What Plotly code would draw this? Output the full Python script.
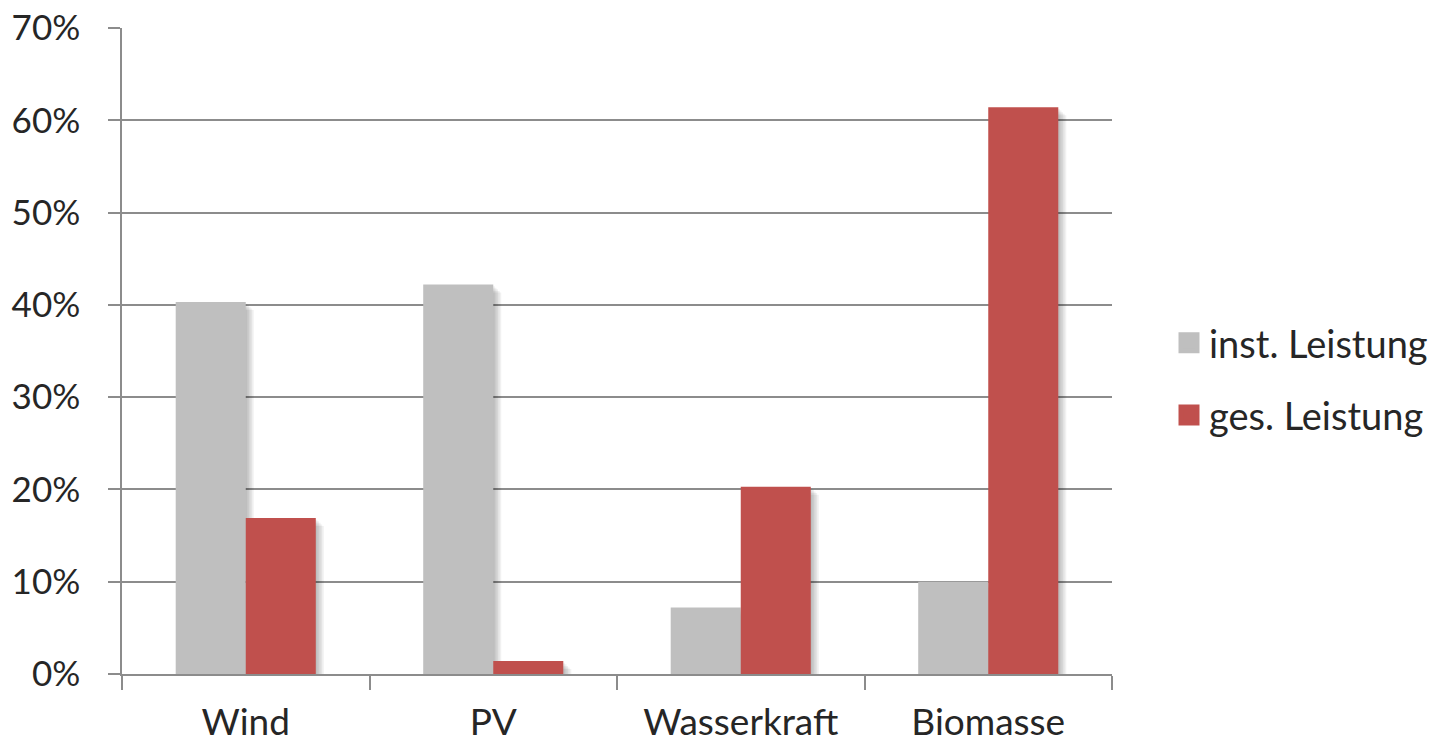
import plotly.graph_objects as go

# Anteile je Energieträger (in %)
categories = ["Wind", "PV", "Wasserkraft", "Biomasse"]
inst_leistung = [40.3, 42.2, 7.2, 10.0]
ges_leistung = [16.9, 1.4, 20.3, 61.4]
y_tick_values = [0, 10, 20, 30, 40, 50, 60, 70]
y_tick_labels = ["0%", "10%", "20%", "30%", "40%", "50%", "60%", "70%"]

GREY = "#BFBFBF"
RED = "#C0504D"
AXIS_GREY = "#8C8C8C"
TEXT = "#262626"
FONT = "Lato"

W, H = 1435, 743
M_L, M_R, M_T, M_B = 122, 323, 28, 69
plot_w = W - M_L - M_R
plot_h = H - M_T - M_B

BAR_W = 0.283                      # bar width in category units
PX = 1.0 / (plot_w / len(categories))   # one pixel in category units
PY = 70.0 / plot_h                  # one pixel in percent

fig = go.Figure()

# soft drop shadow behind each bar, built from several faint layers
for series, off in ((inst_leistung, -BAR_W), (ges_leistung, 0.0)):
    for k in range(1, 6):
        fig.add_bar(
            x=categories,
            y=[max(v - k * 1.6 * PY, 0) for v in series],
            offset=off + k * 1.6 * PX,
            width=BAR_W,
            marker=dict(color="rgba(0,0,0,0.055)", line=dict(width=0)),
            showlegend=False,
            hoverinfo="skip",
        )

fig.add_bar(
    x=categories, y=inst_leistung, name="inst. Leistung",
    offset=-BAR_W, width=BAR_W,
    marker=dict(color=GREY, line=dict(width=0)),
    showlegend=False,
)
fig.add_bar(
    x=categories, y=ges_leistung, name="ges. Leistung",
    offset=0.0, width=BAR_W,
    marker=dict(color=RED, line=dict(width=0)),
    showlegend=False,
)

# legend entries with larger square swatches
for name, color, grp in (("inst. Leistung", GREY, "a"), ("ges. Leistung", RED, "b")):
    fig.add_scatter(
        x=[None], y=[None], mode="markers", name=name, legendgroup=grp,
        marker=dict(symbol="square", size=16, color=color,
                    line=dict(color=color, width=5)),
    )

fig.update_layout(
    width=W, height=H,
    margin=dict(l=M_L, r=M_R, t=M_T, b=M_B, pad=0, autoexpand=False),
    paper_bgcolor="white", plot_bgcolor="white",
    barmode="overlay",
    font=dict(family=FONT, size=38, color=TEXT),
    legend=dict(
        xref="container", yref="container",
        x=1169 / W, y=(H - 379) / H, xanchor="left", yanchor="middle",
        font=dict(family=FONT, size=38, color=TEXT),
        tracegroupgap=20, itemwidth=30,
        bgcolor="rgba(0,0,0,0)",
    ),
    xaxis=dict(
        type="category", range=[-0.5, len(categories) - 0.5],
        showline=True, linecolor=AXIS_GREY, linewidth=1.5,
        ticks="outside", tickson="boundaries", ticklen=14,
        tickcolor=AXIS_GREY, tickwidth=1.5,
        showgrid=False, ticklabelstandoff=15, automargin=False,
        tickfont=dict(family=FONT, size=37, color=TEXT),
    ),
    yaxis=dict(
        range=[0, 70], tickvals=y_tick_values, ticktext=y_tick_labels,
        showgrid=True, gridcolor=AXIS_GREY, gridwidth=1.5,
        showline=True, linecolor=AXIS_GREY, linewidth=1.5,
        ticks="outside", ticklen=12, tickcolor=AXIS_GREY, tickwidth=1.5,
        zeroline=False, ticklabelstandoff=21, automargin=False,
        tickfont=dict(family=FONT, size=35, color=TEXT),
    ),
)

fig.write_html("out.html")
